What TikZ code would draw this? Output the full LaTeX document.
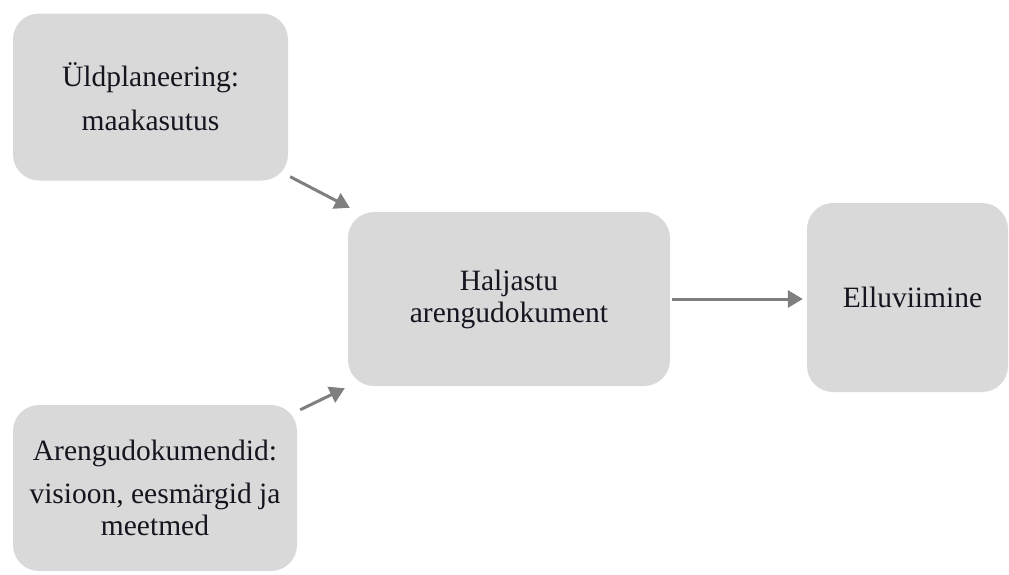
\documentclass[tikz,border=0pt]{standalone}
\usepackage{fontspec}
\setmainfont{Liberation Serif}
\usetikzlibrary{arrows.meta}
\definecolor{boxgray}{HTML}{D9D9D9}
\definecolor{arrgray}{HTML}{7F7F7F}
\definecolor{txtcol}{HTML}{151520}
\tikzset{
  card/.style={fill=boxgray, draw=none, rounded corners=26pt, inner sep=0pt,
    align=center, text=txtcol, font=\fontsize{29.5}{32}\selectfont},
  flow/.style={draw=arrgray, line width=3pt, -{Triangle[length=15pt,width=17pt]}}
}
\begin{document}
\begin{tikzpicture}[x=1pt,y=-1pt]
\useasboundingbox (0,0) rectangle (1009,574);
\node[card, minimum width=275pt, minimum height=167pt] (b1) at (150.5,97)
  {Üldplaneering:\\[12pt]maakasutus};
\node[card, minimum width=322pt, minimum height=174pt] (b2) at (509,299)
  {Haljastu\\arengudokument};
\node[card, minimum width=201pt, minimum height=189pt] (b3) at (907.5,297.5)
  {\hspace*{10pt}Elluviimine};
\node[card, minimum width=284pt, minimum height=166pt] (b4) at (155,488)
  {Arengudokumendid:\\[11pt]visioon, eesmärgid ja\\meetmed};
\draw[flow] ([shift={(2,-4)}]b1.south east) -- ([shift={(2,-4)}]b2.north west);
\draw[flow] ([shift={(3,5)}]b4.north east) -- ([shift={(-3,2)}]b2.south west);
\draw[flow, shorten <=2pt, shorten >=4pt] (b2.east) -- (b2.east -| b3.west);
\end{tikzpicture}
\end{document}
